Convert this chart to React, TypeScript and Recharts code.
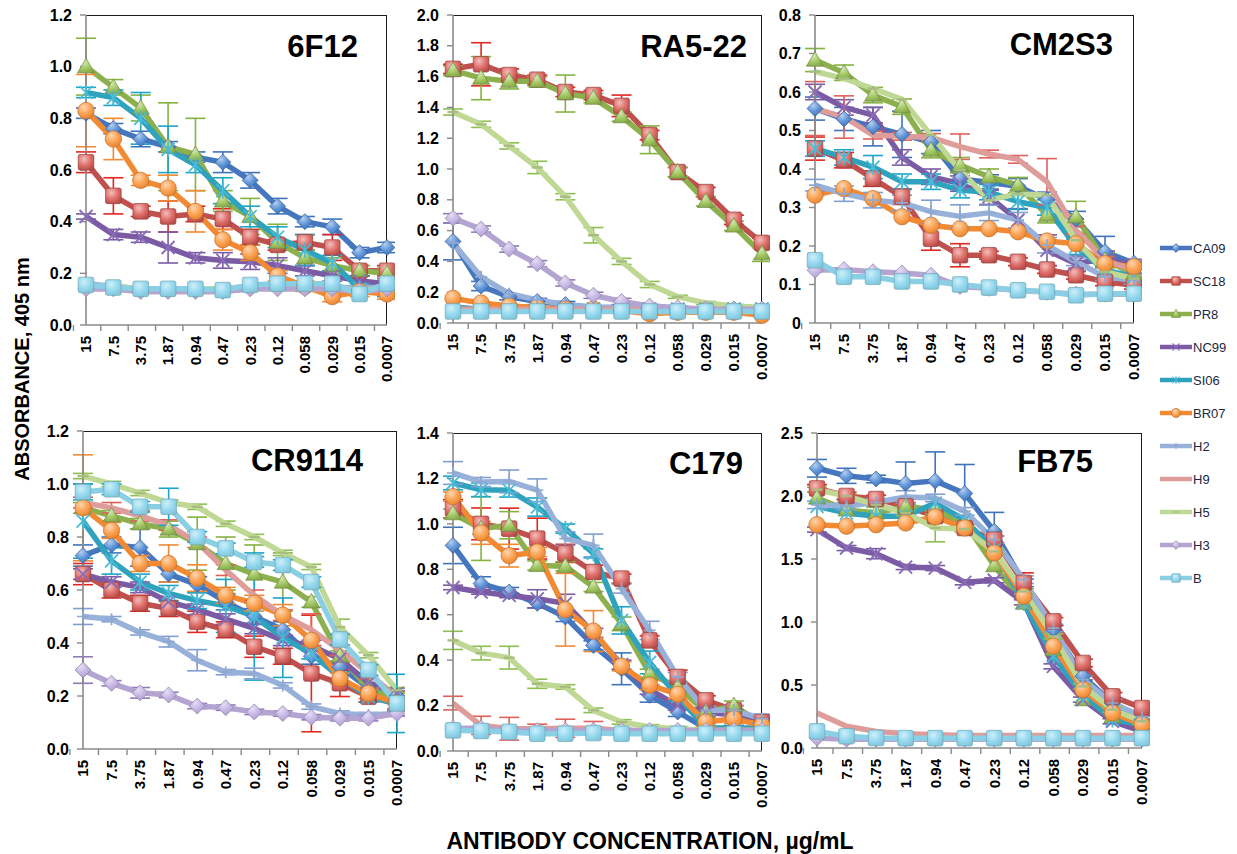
import React from 'react';
import { ComposedChart, Line, XAxis, YAxis, ErrorBar } from 'recharts';

// ---------------- DATA ----------------
const CONCENTRATIONS = ['15', '7.5', '3.75', '1.87', '0.94', '0.47', '0.23', '0.12', '0.058', '0.029', '0.015', '0.0007'];
const STRAINS = ['CA09', 'SC18', 'PR8', 'NC99', 'SI06', 'BR07', 'H2', 'H9', 'H5', 'H3', 'B'];
const TITLES = ['6F12', 'RA5-22', 'CM2S3', 'CR9114', 'C179', 'FB75'];

// rows follow STRAINS order
const VAL_6F12 = [
  [0.82, 0.76, 0.72, 0.69, 0.65, 0.63, 0.56, 0.46, 0.40, 0.38, 0.28, 0.30],
  [0.63, 0.50, 0.44, 0.42, 0.43, 0.41, 0.34, 0.31, 0.32, 0.30, 0.21, 0.21],
  [1.00, 0.92, 0.84, 0.69, 0.66, 0.48, 0.42, 0.32, 0.26, 0.23, 0.21, 0.20],
  [0.42, 0.35, 0.34, 0.30, 0.26, 0.25, 0.245, 0.23, 0.21, 0.19, 0.17, 0.16],
  [0.90, 0.88, 0.80, 0.68, 0.62, 0.52, 0.42, 0.34, 0.29, 0.24, 0.14, 0.13],
  [0.83, 0.72, 0.56, 0.53, 0.44, 0.33, 0.28, 0.19, 0.15, 0.11, 0.13, 0.12],
  [0.16, 0.15, 0.14, 0.14, 0.14, 0.14, 0.15, 0.15, 0.15, 0.15, 0.14, 0.15],
  [0.14, 0.14, 0.13, 0.13, 0.13, 0.13, 0.14, 0.14, 0.14, 0.14, 0.13, 0.14],
  [0.15, 0.15, 0.14, 0.14, 0.14, 0.14, 0.15, 0.15, 0.15, 0.15, 0.13, 0.15],
  [0.14, 0.14, 0.13, 0.13, 0.13, 0.13, 0.14, 0.14, 0.14, 0.14, 0.13, 0.14],
  [0.155, 0.145, 0.14, 0.14, 0.14, 0.135, 0.155, 0.16, 0.16, 0.16, 0.12, 0.16],
];
const VAL_RA522 = [
  [0.53, 0.24, 0.17, 0.14, 0.12, 0.10, 0.10, 0.09, 0.09, 0.09, 0.09, 0.09],
  [1.65, 1.68, 1.61, 1.58, 1.50, 1.48, 1.41, 1.22, 0.98, 0.85, 0.67, 0.52],
  [1.64, 1.59, 1.57, 1.57, 1.49, 1.46, 1.34, 1.19, 0.98, 0.79, 0.63, 0.45],
  [0.10, 0.09, 0.09, 0.09, 0.09, 0.09, 0.09, 0.09, 0.09, 0.09, 0.09, 0.09],
  [0.10, 0.09, 0.09, 0.09, 0.09, 0.09, 0.09, 0.09, 0.09, 0.09, 0.09, 0.09],
  [0.16, 0.13, 0.11, 0.10, 0.09, 0.09, 0.08, 0.06, 0.07, 0.07, 0.07, 0.05],
  [0.52, 0.30, 0.19, 0.15, 0.12, 0.10, 0.10, 0.09, 0.09, 0.09, 0.09, 0.09],
  [0.09, 0.09, 0.09, 0.09, 0.09, 0.09, 0.09, 0.09, 0.09, 0.09, 0.09, 0.09],
  [1.37, 1.29, 1.15, 1.01, 0.82, 0.57, 0.40, 0.25, 0.17, 0.13, 0.11, 0.10],
  [0.68, 0.61, 0.48, 0.385, 0.26, 0.18, 0.14, 0.11, 0.10, 0.09, 0.09, 0.09],
  [0.075, 0.075, 0.075, 0.075, 0.075, 0.075, 0.075, 0.075, 0.075, 0.075, 0.075, 0.075],
];
const VAL_CM2S3 = [
  [0.557, 0.53, 0.51, 0.49, 0.47, 0.375, 0.365, 0.355, 0.32, 0.27, 0.185, 0.155],
  [0.453, 0.423, 0.375, 0.328, 0.219, 0.176, 0.176, 0.159, 0.139, 0.124, 0.107, 0.098],
  [0.683, 0.65, 0.592, 0.562, 0.449, 0.41, 0.38, 0.358, 0.28, 0.276, 0.163, 0.128],
  [0.60, 0.56, 0.54, 0.43, 0.38, 0.362, 0.328, 0.267, 0.189, 0.154, 0.167, 0.15],
  [0.453, 0.43, 0.405, 0.367, 0.367, 0.345, 0.34, 0.315, 0.30, 0.198, 0.137, 0.12],
  [0.332, 0.349, 0.323, 0.276, 0.254, 0.245, 0.245, 0.237, 0.213, 0.206, 0.154, 0.146],
  [0.358, 0.336, 0.319, 0.312, 0.289, 0.277, 0.286, 0.267, 0.202, 0.159, 0.12, 0.111],
  [0.557, 0.535, 0.488, 0.485, 0.482, 0.458, 0.439, 0.425, 0.367, 0.241, 0.163, 0.137],
  [0.653, 0.635, 0.609, 0.581, 0.488, 0.397, 0.319, 0.336, 0.332, 0.215, 0.133, 0.115],
  [0.137, 0.139, 0.133, 0.13, 0.124, 0.095, 0.09, 0.085, 0.08, 0.075, 0.075, 0.075],
  [0.163, 0.12, 0.12, 0.108, 0.108, 0.10, 0.092, 0.085, 0.081, 0.072, 0.076, 0.076],
];
const VAL_CR9114 = [
  [0.73, 0.77, 0.76, 0.66, 0.62, 0.555, 0.50, 0.45, 0.35, 0.31, 0.23, 0.20],
  [0.66, 0.60, 0.55, 0.53, 0.48, 0.45, 0.386, 0.35, 0.285, 0.248, 0.197, 0.172],
  [0.91, 0.88, 0.85, 0.83, 0.775, 0.70, 0.66, 0.63, 0.555, 0.35, 0.23, 0.19],
  [0.66, 0.63, 0.61, 0.555, 0.527, 0.49, 0.455, 0.41, 0.39, 0.34, 0.25, 0.21],
  [0.86, 0.71, 0.63, 0.587, 0.56, 0.54, 0.50, 0.42, 0.36, 0.27, 0.197, 0.17],
  [0.91, 0.825, 0.70, 0.70, 0.645, 0.58, 0.55, 0.505, 0.41, 0.266, 0.21, 0.172],
  [0.50, 0.49, 0.44, 0.405, 0.335, 0.29, 0.285, 0.24, 0.16, 0.134, 0.128, 0.134],
  [0.93, 0.91, 0.88, 0.845, 0.78, 0.675, 0.58, 0.505, 0.45, 0.373, 0.285, 0.197],
  [1.03, 1.00, 0.966, 0.93, 0.914, 0.85, 0.80, 0.74, 0.687, 0.46, 0.354, 0.222],
  [0.298, 0.248, 0.212, 0.204, 0.162, 0.156, 0.14, 0.134, 0.12, 0.116, 0.116, 0.134],
  [0.97, 0.98, 0.914, 0.914, 0.80, 0.757, 0.706, 0.694, 0.63, 0.413, 0.298, 0.172],
];
const VAL_C179 = [
  [0.905, 0.737, 0.70, 0.65, 0.59, 0.465, 0.362, 0.245, 0.172, 0.10, 0.10, 0.10],
  [1.067, 1.00, 0.979, 0.935, 0.87, 0.788, 0.759, 0.487, 0.326, 0.223, 0.18, 0.128],
  [1.045, 0.979, 0.994, 0.817, 0.813, 0.722, 0.56, 0.34, 0.282, 0.172, 0.20, 0.12],
  [0.72, 0.70, 0.685, 0.67, 0.65, 0.52, 0.38, 0.27, 0.20, 0.17, 0.16, 0.12],
  [1.18, 1.15, 1.148, 1.074, 0.979, 0.87, 0.575, 0.39, 0.24, 0.10, 0.10, 0.10],
  [1.12, 0.96, 0.86, 0.876, 0.622, 0.528, 0.373, 0.29, 0.25, 0.128, 0.142, 0.113],
  [1.224, 1.184, 1.187, 1.148, 0.935, 0.905, 0.715, 0.531, 0.326, 0.179, 0.179, 0.142],
  [0.211, 0.113, 0.098, 0.098, 0.10, 0.10, 0.09, 0.09, 0.09, 0.09, 0.09, 0.09],
  [0.487, 0.431, 0.411, 0.296, 0.282, 0.179, 0.128, 0.106, 0.098, 0.09, 0.09, 0.09],
  [0.10, 0.10, 0.09, 0.09, 0.09, 0.09, 0.09, 0.09, 0.09, 0.09, 0.09, 0.09],
  [0.091, 0.088, 0.084, 0.076, 0.076, 0.079, 0.076, 0.076, 0.076, 0.076, 0.076, 0.076],
];
const VAL_FB75 = [
  [2.22, 2.16, 2.135, 2.10, 2.12, 2.02, 1.72, 1.31, 0.94, 0.57, 0.357, 0.225],
  [2.06, 2.00, 1.976, 1.918, 1.84, 1.746, 1.653, 1.31, 1.005, 0.675, 0.41, 0.317],
  [1.984, 1.89, 1.865, 1.918, 1.89, 1.786, 1.447, 1.15, 0.78, 0.384, 0.25, 0.17],
  [1.733, 1.587, 1.542, 1.436, 1.428, 1.315, 1.331, 1.156, 0.648, 0.384, 0.212, 0.132],
  [1.918, 1.865, 1.84, 1.84, 1.944, 1.81, 1.574, 1.15, 0.727, 0.423, 0.225, 0.185],
  [1.772, 1.76, 1.772, 1.786, 1.833, 1.746, 1.548, 1.204, 0.807, 0.463, 0.278, 0.185],
  [1.93, 1.918, 1.95, 1.992, 1.984, 1.878, 1.653, 1.336, 0.952, 0.542, 0.357, 0.25],
  [0.278, 0.172, 0.132, 0.114, 0.106, 0.10, 0.10, 0.10, 0.10, 0.10, 0.10, 0.10],
  [2.05, 2.00, 1.93, 1.865, 1.746, 1.738, 1.56, 1.243, 0.886, 0.489, 0.304, 0.212],
  [0.08, 0.07, 0.07, 0.07, 0.07, 0.07, 0.07, 0.07, 0.07, 0.07, 0.07, 0.07],
  [0.132, 0.093, 0.08, 0.078, 0.078, 0.078, 0.078, 0.078, 0.078, 0.078, 0.078, 0.078],
];

// error bars (+/-), null = no error bars drawn
const ERR_6F12 = [
  [0.02, 0.02, 0.03, 0.02, 0.02, 0.04, 0.03, 0.03, 0.02, 0.03, 0.02, 0.02],
  [0.04, 0.07, 0.02, 0.06, 0.03, 0.04, 0.03, 0.02, 0.03, 0.05, 0.02, 0.02],
  [0.11, 0.03, 0.05, 0.17, 0.14, 0.04, 0.07, 0.07, 0.03, 0.03, 0.02, 0.02],
  [0.01, 0.02, 0.02, 0.06, 0.02, 0.03, 0.03, 0.03, 0.02, 0.02, 0.02, 0.02],
  [0.02, 0.03, 0.10, 0.09, 0.03, 0.05, 0.04, 0.04, 0.06, 0.03, 0.02, 0.02],
  [0.14, 0.08, 0.02, 0.05, 0.08, 0.04, 0.03, 0.02, 0.02, 0.02, 0.02, 0.02],
  null, null, null, null, null,
];
const ERR_RA522 = [
  [0.12, 0.03, 0.02, 0.02, 0.02, 0.01, 0.01, 0.01, 0.01, 0.01, 0.01, 0.01],
  [0.03, 0.14, 0.04, 0.03, 0.03, 0.03, 0.07, 0.03, 0.03, 0.03, 0.03, 0.03],
  [0.03, 0.14, 0.05, 0.03, 0.12, 0.03, 0.03, 0.09, 0.03, 0.03, 0.03, 0.05],
  null, null, null, null, null,
  [0.02, 0.02, 0.02, 0.04, 0.02, 0.05, 0.02, 0.02, 0.01, 0.01, 0.01, 0.01],
  [0.03, 0.02, 0.02, 0.02, 0.02, 0.02, 0.02, 0.01, 0.01, 0.01, 0.01, 0.01],
  null,
];
const ERR_CM2S3 = [
  [0.03, 0.03, 0.05, 0.06, 0.03, 0.02, 0.02, 0.02, 0.02, 0.02, 0.04, 0.01],
  [0.03, 0.02, 0.02, 0.02, 0.03, 0.03, 0.01, 0.01, 0.01, 0.01, 0.01, 0.01],
  [0.03, 0.02, 0.02, 0.02, 0.02, 0.02, 0.02, 0.02, 0.02, 0.04, 0.02, 0.01],
  [0.02, 0.02, 0.02, 0.02, 0.02, 0.02, 0.02, 0.03, 0.04, 0.02, 0.02, 0.01],
  [0.02, 0.02, 0.03, 0.02, 0.02, 0.02, 0.02, 0.02, 0.02, 0.02, 0.02, 0.01],
  null,
  [0.015, 0.02, 0.02, 0.02, 0.03, 0.03, 0.02, 0.02, 0.02, 0.01, 0.01, 0.01],
  [0.07, 0.055, 0.01, 0.01, 0.01, 0.033, 0.01, 0.01, 0.06, 0.01, 0.01, 0.01],
  null, null, null,
];
const ERR_CR9114 = [
  [0.04, 0.03, 0.07, 0.03, 0.03, 0.03, 0.03, 0.03, 0.03, 0.02, 0.02, 0.02],
  [0.04, 0.03, 0.03, 0.03, 0.04, 0.03, 0.04, 0.03, 0.22, 0.05, 0.02, 0.02],
  [0.02, 0.02, 0.02, 0.03, 0.10, 0.10, 0.11, 0.11, 0.02, 0.02, 0.02, 0.02],
  [0.02, 0.02, 0.02, 0.02, 0.02, 0.02, 0.02, 0.02, 0.02, 0.02, 0.02, 0.02],
  [0.14, 0.05, 0.03, 0.03, 0.03, 0.1, 0.24, 0.15, 0.02, 0.02, 0.02, 0.02],
  [0.20, 0.03, 0.03, 0.07, 0.05, 0.03, 0.03, 0.04, 0.02, 0.02, 0.02, 0.02],
  [0.03, 0.01, 0.01, 0.02, 0.04, 0.01, 0.02, 0.01, 0.01, 0.01, 0.01, 0.01],
  [0.02, 0.02, 0.02, 0.02, 0.02, 0.02, 0.02, 0.02, 0.06, 0.02, 0.02, 0.02],
  [0.01, 0.01, 0.01, 0.01, 0.01, 0.01, 0.01, 0.01, 0.01, 0.03, 0.01, 0.01],
  [0.05, 0.01, 0.02, 0.01, 0.01, 0.01, 0.01, 0.01, 0.01, 0.01, 0.01, 0.01],
  [0.03, 0.02, 0.02, 0.07, 0.02, 0.02, 0.02, 0.02, 0.02, 0.02, 0.02, 0.11],
];
const ERR_C179 = [
  [0.08, 0.03, 0.02, 0.02, 0.02, 0.02, 0.07, 0.03, 0.02, 0.01, 0.01, 0.01],
  [0.04, 0.07, 0.09, 0.09, 0.04, 0.03, 0.02, 0.02, 0.03, 0.02, 0.02, 0.02],
  [0.02, 0.14, 0.06, 0.02, 0.02, 0.02, 0.03, 0.02, 0.02, 0.02, 0.02, 0.02],
  [0.01, 0.01, 0.01, 0.04, 0.04, 0.02, 0.02, 0.02, 0.02, 0.02, 0.02, 0.02],
  [0.03, 0.03, 0.03, 0.04, 0.02, 0.02, 0.06, 0.05, 0.02, 0.02, 0.02, 0.02],
  [0.02, 0.05, 0.05, 0.02, 0.16, 0.09, 0.02, 0.02, 0.02, 0.02, 0.02, 0.02],
  [0.05, 0.02, 0.05, 0.05, 0.03, 0.05, 0.02, 0.04, 0.02, 0.02, 0.02, 0.02],
  [0.03, 0.04, 0.05, 0.02, 0.04, 0.03, 0.01, 0.01, 0.01, 0.01, 0.01, 0.01],
  [0.04, 0.03, 0.05, 0.02, 0.01, 0.01, 0.01, 0.01, 0.01, 0.01, 0.01, 0.01],
  null, null,
];
const ERR_FB75 = [
  [0.07, 0.06, 0.03, 0.17, 0.23, 0.23, 0.15, 0.03, 0.03, 0.03, 0.03, 0.03],
  [0.03, 0.03, 0.03, 0.03, 0.03, 0.03, 0.03, 0.08, 0.03, 0.03, 0.03, 0.03],
  null,
  [0.02, 0.02, 0.04, 0.02, 0.02, 0.02, 0.02, 0.02, 0.02, 0.02, 0.02, 0.02],
  null, null,
  [0.03, 0.03, 0.03, 0.05, 0.03, 0.03, 0.03, 0.03, 0.03, 0.03, 0.03, 0.03],
  null,
  [0.02, 0.02, 0.02, 0.02, 0.11, 0.02, 0.02, 0.02, 0.02, 0.02, 0.02, 0.02],
  null, null,
];

const TICKS_6F12 = [0, 0.2, 0.4, 0.6, 0.8, 1.0, 1.2];
const TICKS_RA522 = [0, 0.2, 0.4, 0.6, 0.8, 1.0, 1.2, 1.4, 1.6, 1.8, 2.0];
const TICKS_CM2S3 = [0, 0.1, 0.2, 0.3, 0.4, 0.5, 0.6, 0.7, 0.8];
const TICKS_CR9114 = [0, 0.2, 0.4, 0.6, 0.8, 1.0, 1.2];
const TICKS_C179 = [0, 0.2, 0.4, 0.6, 0.8, 1.0, 1.2, 1.4];
const TICKS_FB75 = [0, 0.5, 1.0, 1.5, 2.0, 2.5];

// ---------------- STYLE / LAYOUT ----------------
const FONT = '"Liberation Sans", Arial, Helvetica, sans-serif';
const LINE_COLORS = ['#4677BE', '#C0504D', '#8DB04F', '#7A5BA4', '#2FA2BE', '#F28A33', '#97B1DA', '#DE9C9A', '#BFD893', '#B4A4D2', '#8ACFE4'];
const MARKER_COLORS = ['#5A92D8', '#E0706B', '#A3C963', '#8A6CB8', '#48BBD6', '#FBA252', '#A9C2E6', '#E8A9A7', '#C8E09E', '#C4B5E4', '#96DAF0'];
const ERR_COLORS = ['#3F74BC', '#E3261F', '#86B240', '#7A5BA4', '#1AA5C9', '#F28A33', '#7F9FD2', '#E0605A', '#8DBF50', '#8F79B8', '#1AA5C9'];
const MARKERS = ['diamond', 'square', 'triangle', 'x', 'asterisk', 'circle', 'plus', 'none', 'dash', 'diamond', 'square'];
const AXIS = '#8a8a8a';

// plot rectangles [left, top, right, bottom] in page pixels
const RECTS = [
  [86, 15, 387, 325],
  [453, 15, 762, 323],
  [815, 15, 1134, 323],
  [83, 431, 397, 749],
  [453, 433, 762, 751],
  [817, 433, 1142, 748],
];
const TITLE_POS = [[358, 57], [747, 57], [1113, 55], [363, 471], [743, 474], [1093, 472]];

const YW = 70;
const MT = 10;
const MR = 8;
const XH = 85;

function shade(hex: string, amt: number) {
  const n = parseInt(hex.slice(1), 16);
  let r = (n >> 16) & 255, g = (n >> 8) & 255, b = n & 255;
  const f = (c: number) => Math.round(amt >= 0 ? c + (255 - c) * amt : c * (1 + amt));
  r = f(r); g = f(g); b = f(b);
  return '#' + ((1 << 24) + (r << 16) + (g << 8) + b).toString(16).slice(1);
}

function Marker({ cx, cy, i, s = 1 }: any) {
  if (cx == null || cy == null || isNaN(cx) || isNaN(cy)) return <g />;
  const kind = MARKERS[i];
  const c = LINE_COLORS[i];
  const fill = `url(#mk${i})`;
  const edge = shade(c, -0.2);
  switch (kind) {
    case 'diamond': {
      const r = 8 * s;
      return <path d={`M${cx},${cy - r}L${cx + r},${cy}L${cx},${cy + r}L${cx - r},${cy}Z`} fill={fill} stroke={edge} strokeWidth={0.7} />;
    }
    case 'square': {
      const r = 7.8 * s;
      return <rect x={cx - r} y={cy - r} width={2 * r} height={2 * r} rx={1.8 * s} fill={fill} stroke={edge} strokeWidth={0.7} />;
    }
    case 'triangle': {
      const r = 8.5 * s;
      return <path d={`M${cx},${cy - r}L${cx + r},${cy + r * 0.72}L${cx - r},${cy + r * 0.72}Z`} fill={fill} stroke={edge} strokeWidth={0.7} />;
    }
    case 'circle':
      return <circle cx={cx} cy={cy} r={8.2 * s} fill={fill} stroke={edge} strokeWidth={0.7} />;
    case 'x': {
      const r = 6.5 * s;
      return <path d={`M${cx - r},${cy - r}L${cx + r},${cy + r}M${cx - r},${cy + r}L${cx + r},${cy - r}`} stroke={MARKER_COLORS[i]} strokeWidth={1.9 * s} fill="none" />;
    }
    case 'asterisk': {
      const r = 6.5 * s;
      return <path d={`M${cx - r},${cy - r}L${cx + r},${cy + r}M${cx - r},${cy + r}L${cx + r},${cy - r}M${cx},${cy - r * 1.2}L${cx},${cy + r * 1.2}`} stroke={MARKER_COLORS[i]} strokeWidth={1.7 * s} fill="none" />;
    }
    case 'plus': {
      const r = 6 * s;
      return <path d={`M${cx - r},${cy}L${cx + r},${cy}M${cx},${cy - r}L${cx},${cy + r}`} stroke={shade(c, -0.05)} strokeWidth={1.7 * s} fill="none" />;
    }
    case 'dash': {
      const r = 5.5 * s;
      return <path d={`M${cx - r},${cy}L${cx + r},${cy}`} stroke={shade(c, -0.12)} strokeWidth={2.4 * s} fill="none" />;
    }
    default:
      return <g />;
  }
}

function XTick(props: any) {
  const { x, y, payload, index, bw } = props;
  return (
    <g>
      <line x1={x - bw / 2} x2={x - bw / 2} y1={y} y2={y + 6} stroke={AXIS} strokeWidth={1.4} />
      {index === CONCENTRATIONS.length - 1 && (
        <line x1={x + bw / 2} x2={x + bw / 2} y1={y} y2={y + 6} stroke={AXIS} strokeWidth={1.4} />
      )}
      <text
        transform={`translate(${x},${y + 11}) rotate(-90)`}
        textAnchor="end"
        dy="0.36em"
        fontSize={15}
        fontWeight="bold"
        fontFamily={FONT}
        fill="#000"
      >
        {payload.value}
      </text>
    </g>
  );
}

function buildRows(vals: number[][], errs: (number[] | null)[]) {
  return CONCENTRATIONS.map((c, k) => {
    const row: any = { conc: c };
    vals.forEach((arr, i) => { row[`s${i}`] = arr[k]; });
    errs.forEach((arr, i) => { if (arr) row[`e${i}`] = arr[k]; });
    return row;
  });
}

const PANEL_VALUES = [VAL_6F12, VAL_RA522, VAL_CM2S3, VAL_CR9114, VAL_C179, VAL_FB75];
const PANEL_ERRORS = [ERR_6F12, ERR_RA522, ERR_CM2S3, ERR_CR9114, ERR_C179, ERR_FB75];
const PANEL_TICKS = [TICKS_6F12, TICKS_RA522, TICKS_CM2S3, TICKS_CR9114, TICKS_C179, TICKS_FB75];

function Panel({ idx }: { idx: number }) {
  const [L, T, R, B] = RECTS[idx];
  const plotW = R - L;
  const plotH = B - T;
  const W = plotW + YW + MR;
  const H = plotH + MT + XH;
  const ticks = PANEL_TICKS[idx];
  const errs = PANEL_ERRORS[idx];
  const rows = buildRows(PANEL_VALUES[idx], errs);
  const bw = plotW / CONCENTRATIONS.length;
  const fmt = (v: number) => (idx === 2 && v === 0 ? '0' : v.toFixed(1));
  return (
    <>
      <div
        style={{
          position: 'absolute', left: L, top: T, width: plotW, height: plotH,
          borderTop: '1.6px solid #1c1c1c', borderRight: '1.6px solid #1c1c1c', boxSizing: 'border-box',
        }}
      />
      <div style={{ position: 'absolute', left: L - YW, top: T - MT }}>
        <ComposedChart width={W} height={H} data={rows} margin={{ top: MT, right: MR, left: 0, bottom: 0 }}>
          <XAxis
            dataKey="conc"
            interval={0}
            tickLine={false}
            tickSize={0}
            tickMargin={0}
            height={XH}
            axisLine={{ stroke: AXIS, strokeWidth: 1.6 }}
            tick={(tp: any) => <XTick {...tp} bw={bw} />}
          />
          <YAxis
            domain={[0, ticks[ticks.length - 1]]}
            ticks={ticks}
            interval={0}
            width={YW}
            tickSize={6}
            tickMargin={8}
            axisLine={{ stroke: AXIS, strokeWidth: 1.6 }}
            tickLine={{ stroke: AXIS, strokeWidth: 1.4 }}
            tick={{ fill: '#000', fontSize: 16, fontWeight: 'bold', fontFamily: FONT }}
            tickFormatter={fmt}
          />
          {STRAINS.map((name, i) => (
            <Line
              key={name}
              type="linear"
              dataKey={`s${i}`}
              name={name}
              stroke={LINE_COLORS[i]}
              strokeWidth={5.5}
              strokeLinejoin="round"
              dot={MARKERS[i] === 'none' ? false : (p: any) => <Marker key={`d${i}-${p.index}`} cx={p.cx} cy={p.cy} i={i} />}
              activeDot={false}
              isAnimationActive={false}
            >
              {errs[i] ? (
                <ErrorBar dataKey={`e${i}`} direction="y" width={10} stroke={ERR_COLORS[i]} strokeWidth={1.6} />
              ) : null}
            </Line>
          ))}
        </ComposedChart>
      </div>
    </>
  );
}

export default function App() {
  const legendY0 = 248;
  const legendStep = 33;
  return (
    <div style={{ position: 'absolute', left: 0, top: 0, width: 1237, height: 854, background: '#fff', overflow: 'hidden', fontFamily: FONT }}>
      <svg width={0} height={0} style={{ position: 'absolute' }}>
        <defs>
          {STRAINS.map((n, i) => (
            <radialGradient key={n} id={`mk${i}`} cx="38%" cy="30%" r="75%">
              <stop offset="0%" stopColor={shade(MARKER_COLORS[i], 0.55)} />
              <stop offset="55%" stopColor={MARKER_COLORS[i]} />
              <stop offset="100%" stopColor={shade(LINE_COLORS[i], -0.05)} />
            </radialGradient>
          ))}
        </defs>
      </svg>
      {RECTS.map((_, k) => <Panel key={k} idx={k} />)}
      <svg width={1237} height={854} style={{ position: 'absolute', left: 0, top: 0, pointerEvents: 'none' }}>
        {TITLES.map((t, k) => (
          <text key={t} x={TITLE_POS[k][0]} y={TITLE_POS[k][1]} textAnchor="end" fontSize={31} fontWeight="bold" fontFamily={FONT} fill="#000">{t}</text>
        ))}
        <text transform="translate(22,369) rotate(-90)" textAnchor="middle" dy="0.36em" fontSize={20} fontWeight="bold" fontFamily={FONT} fill="#000">ABSORBANCE, 405 nm</text>
        <text x={650} y={849} textAnchor="middle" fontSize={23} fontWeight="bold" fontFamily={FONT} fill="#000">ANTIBODY CONCENTRATION, µg/mL</text>
        {STRAINS.map((n, i) => {
          const y = legendY0 + i * legendStep;
          return (
            <g key={n}>
              <line x1={1160} x2={1192} y1={y} y2={y} stroke={LINE_COLORS[i]} strokeWidth={4.5} />
              <Marker cx={1176} cy={y} i={i} s={0.55} />
              <text x={1193} y={y} dy="0.36em" fontSize={13} fontFamily={'"Liberation Sans Narrow", "Liberation Sans", Arial, sans-serif'} fill="#1b2840">{n}</text>
            </g>
          );
        })}
      </svg>
    </div>
  );
}
